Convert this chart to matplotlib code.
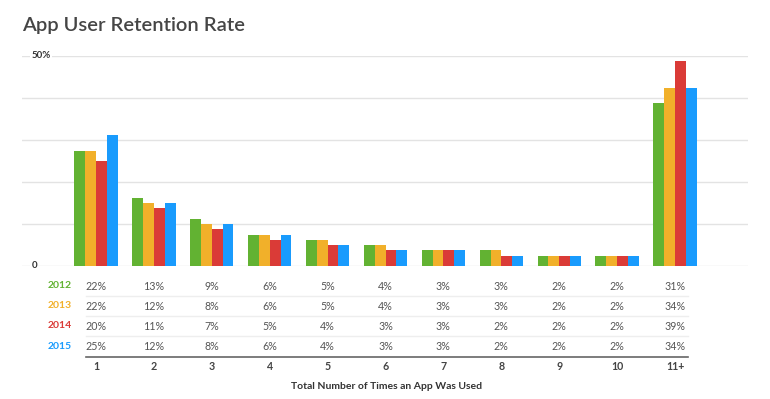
import matplotlib

matplotlib.use("Agg")
import matplotlib.pyplot as plt
import matplotlib.transforms as mtransforms
import numpy as np

plt.rcParams["font.family"] = ["Lato", "DejaVu Sans"]

categories = ["1", "2", "3", "4", "5", "6", "7", "8", "9", "10", "11+"]
years = ["2012", "2013", "2014", "2015"]
colors = ["#62b232", "#f1b02a", "#da3b37", "#199bfd"]
v2012 = [22, 13, 9, 6, 5, 4, 3, 3, 2, 2, 31]
v2013 = [22, 12, 8, 6, 5, 4, 3, 3, 2, 2, 34]
v2014 = [20, 11, 7, 5, 4, 3, 3, 2, 2, 2, 39]
v2015 = [25, 12, 8, 6, 4, 3, 3, 2, 2, 2, 34]
series = [v2012, v2013, v2014, v2015]

W, H = 770, 399
fig = plt.figure(figsize=(W / 100, H / 100), dpi=100)
fig.patch.set_facecolor("white")


def fy(py):
    return 1 - py / H


# plot area in pixels: x 22..748, y 56..266
ax = fig.add_axes([22 / W, fy(266), (748 - 22) / W, (266 - 56) / H])
x = np.arange(len(categories))
bw = 0.187
for i, (vals, c) in enumerate(zip(series, colors)):
    ax.bar(x + (i - 1.5) * bw, vals, width=bw, color=c, zorder=3, linewidth=0)

# the reference's top line (labelled 50%) sits at 40 in table units
ax.set_xlim(-1.278, 11.26)
ax.set_ylim(0, 40)
ax.set_yticks([0, 8, 16, 24, 32, 40])
ax.yaxis.grid(True, color="#e3e3e3", lw=1.0)
ax.set_axisbelow(True)
ax.tick_params(left=False, bottom=False, labelleft=False, labelbottom=False)
for s in ax.spines.values():
    s.set_visible(False)

# y labels sit on top of the grid line, leaving a short dash on the left
ax.text(0.013, 40, "50%", transform=ax.get_yaxis_transform(), ha="left", va="center",
        fontsize=7, fontweight="bold", color="#333333",
        bbox=dict(facecolor="white", edgecolor="none", pad=1.0), zorder=5, clip_on=False)
ax.text(0.013, 0, "0", transform=ax.get_yaxis_transform(), ha="left", va="center",
        fontsize=7, fontweight="bold", color="#333333",
        bbox=dict(facecolor="white", edgecolor="none", pad=1.0), zorder=5, clip_on=False)

fig.text(22 / W, fy(25), "App User Retention Rate", ha="left", va="center",
         fontsize=14.5, fontweight="semibold", color="#454545")

# table below the chart
tr = mtransforms.blended_transform_factory(ax.transData, fig.transFigure)
row_y = [286, 306, 326, 346.5]
for yr, c, vals, py in zip(years, colors, series, row_y):
    fig.text(72 / W, fy(py), yr, ha="right", va="center", fontsize=7.5,
             fontweight="bold", color=c)
    for xi, v in zip(x, vals):
        ax.text(xi, fy(py), f"{v}%", transform=tr, ha="center", va="center",
                fontsize=7.7, color="#555555", clip_on=False)

for py in [296, 316, 336]:
    fig.add_artist(plt.Line2D([86 / W, 688 / W], [fy(py), fy(py)], color="#eeeeee", lw=1.0))
fig.add_artist(plt.Line2D([86 / W, 688 / W], [fy(356.5), fy(356.5)], color="#666666", lw=1.2))

for xi, lab in zip(x, categories):
    ax.text(xi, fy(367), lab, transform=tr, ha="center", va="center", fontsize=7.7,
            fontweight="bold", color="#444444", clip_on=False)

fig.text(387 / W, fy(386.5), "Total Number of Times an App Was Used", ha="center",
         va="center", fontsize=7.5, fontweight="bold", color="#333333")

fig.savefig("out.png", dpi=100, facecolor="white")
